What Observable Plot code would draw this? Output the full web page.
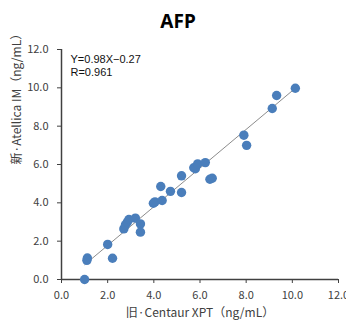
<!DOCTYPE html>
<html>
<head>
<meta charset="utf-8">
<script src="https://cdn.jsdelivr.net/npm/d3@7"></script>
<script src="https://cdn.jsdelivr.net/npm/@observablehq/plot@0.6"></script>
<style>
  html, body { margin: 0; padding: 0; background: #fff; width: 346px; height: 323px; overflow: hidden; }
  #title { position: absolute; left: 0; top: 8px; width: 356px; text-align: center;
           font: bold 19px "Noto Sans", "Liberation Sans", sans-serif; color: #000; }
  #chart { position: absolute; left: 0; top: 40px; }
</style>
</head>
<body>
<div id="title">AFP</div>
<div id="chart"></div>
<script>
const oldX = [1.0, 1.12, 1.1, 2.0, 2.21, 2.7, 2.77, 2.85, 2.92, 3.2, 3.42, 3.42, 3.98, 4.05, 4.36, 4.3, 4.72, 5.2, 5.2, 5.73, 5.8, 5.9, 6.23, 6.43, 6.53, 7.9, 8.02, 9.13, 9.32, 10.13];
const newY = [0.0, 1.12, 1.0, 1.83, 1.11, 2.64, 2.85, 2.99, 3.13, 3.2, 2.9, 2.47, 3.98, 4.05, 4.12, 4.85, 4.6, 4.54, 5.41, 5.83, 5.78, 6.03, 6.1, 5.23, 5.28, 7.53, 7.0, 8.92, 9.6, 9.98];
const fitX = [1.01, 10.13];
const fitY = [0.78, 9.98];
const tickValues = [0, 2, 4, 6, 8, 10, 12];
const equationLines = ["Y=0.98X\u22120.27", "R=0.961"];
const xLabel = "旧·Centaur XPT（ng/mL）";
const yLabel = "新·Atellica IM（ng/mL）";

const points = oldX.map((x, i) => ({x, y: newY[i]}));
const fit = fitX.map((x, i) => ({x, y: fitY[i]}));

const font = '"Noto Sans CJK JP", "Noto Sans", sans-serif';

const chart = Plot.plot({
  width: 346,
  height: 283,
  marginLeft: 61,
  marginRight: 8,
  marginTop: 9,
  marginBottom: 44,
  style: {fontFamily: font, fontSize: "11px", color: "#404040", background: "white", overflow: "visible"},
  x: {domain: [0, 12], ticks: tickValues, tickFormat: d => d.toFixed(1)},
  y: {domain: [0, 12], ticks: tickValues, tickFormat: d => d.toFixed(1)},
  marks: [
    Plot.axisY({ticks: tickValues, tickFormat: d => d.toFixed(1), tickSize: 4, tickPadding: 9, stroke: "#404040", fill: "#404040", fontSize: 11, label: null}),
    Plot.axisX({ticks: tickValues, tickFormat: d => d.toFixed(1), tickSize: 4, tickPadding: 8, stroke: "#404040", fill: "#404040", fontSize: 11, label: null}),
    Plot.ruleX([0], {stroke: "#404040", strokeWidth: 1.5}),
    Plot.ruleY([0], {stroke: "#404040", strokeWidth: 1.5}),
    Plot.line(fit, {x: "x", y: "y", stroke: "#8c8c8c", strokeWidth: 1}),
    Plot.dot(points, {x: "x", y: "y", r: 4.7, fill: "#4a7ebb", stroke: "none"}),
    Plot.text([equationLines.join("\n")], {frameAnchor: "top-left", lineAnchor: "top", lineHeight: 1.2, dx: 9, dy: 4, fontSize: 11, fontFamily: '"Liberation Sans", Arial, sans-serif', fill: "#111", textAnchor: "start"}),
    Plot.text([xLabel], {frameAnchor: "bottom", dy: 37, fontSize: 12, fill: "#404040"}),
    Plot.text([yLabel], {frameAnchor: "left", dx: -44, rotate: -90, fontSize: 12, fill: "#404040"})
  ]
});
document.getElementById("chart").appendChild(chart);
</script>
</body>
</html>
